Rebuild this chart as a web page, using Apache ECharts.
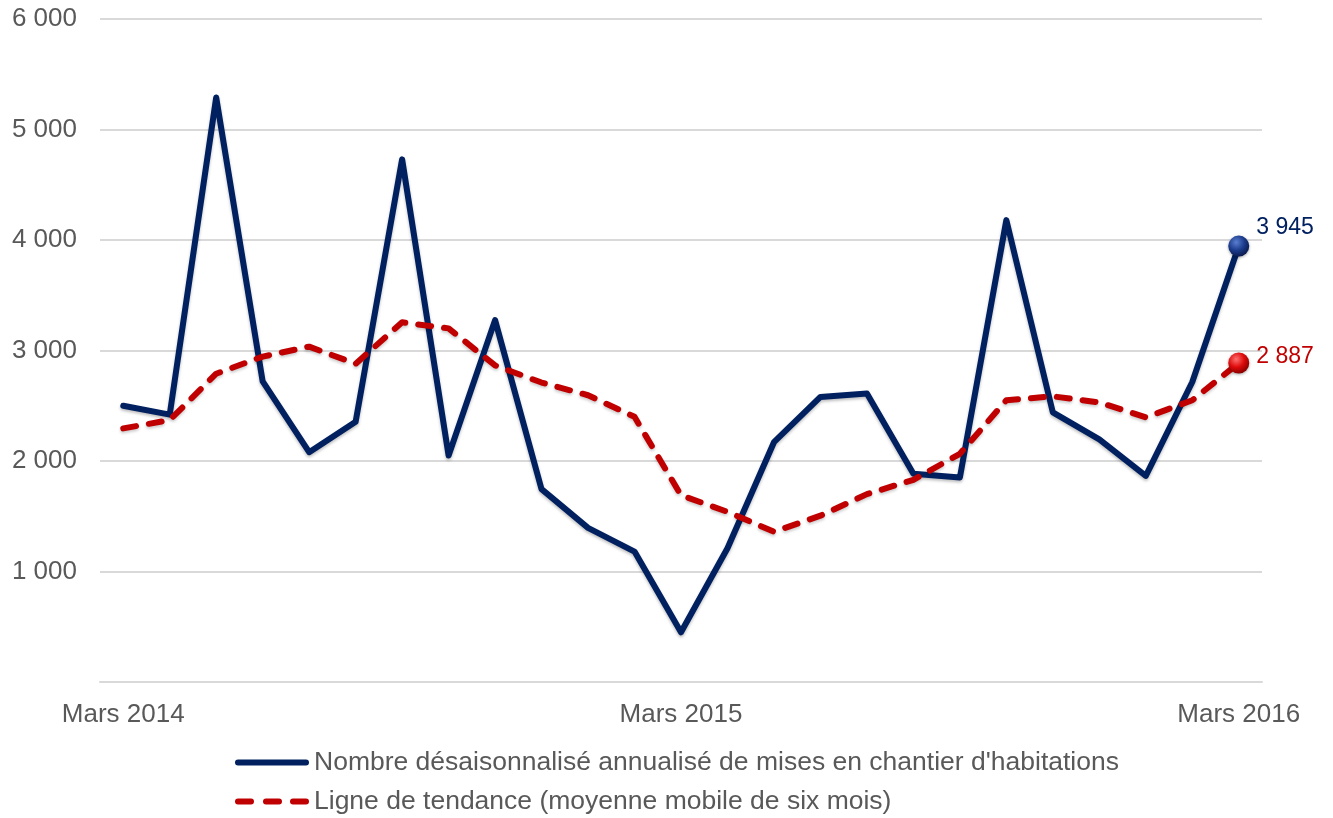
<!DOCTYPE html>
<html>
<head>
<meta charset="utf-8">
<script src="https://cdn.jsdelivr.net/npm/echarts@6/dist/echarts.min.js"></script>
<style>
html,body{margin:0;padding:0;background:#fff;}
#chart{width:1333px;height:818px;}
</style>
</head>
<body>
<div id="chart"></div>
<script>
const categories = [
  'Mars 2014','Avril 2014','Mai 2014','Juin 2014','Juillet 2014','Août 2014','Septembre 2014','Octobre 2014','Novembre 2014','Décembre 2014',
  'Janvier 2015','Février 2015','Mars 2015','Avril 2015','Mai 2015','Juin 2015','Juillet 2015','Août 2015','Septembre 2015','Octobre 2015','Novembre 2015','Décembre 2015',
  'Janvier 2016','Février 2016','Mars 2016'
];
const mises = [2500, 2420, 5290, 2720, 2080, 2355, 4730, 2050, 3275, 1745, 1395, 1180, 450, 1210, 2170, 2580, 2610, 1885, 1850, 4180, 2440, 2195, 1865, 2715, 3945];
const tendance = [2295, 2370, 2790, 2945, 3035, 2880, 3255, 3200, 2865, 2710, 2595, 2400, 1690, 1540, 1360, 1505, 1700, 1830, 2065, 2550, 2585, 2530, 2395, 2550, 2887];
const yTicks = [0, 1000, 2000, 3000, 4000, 5000, 6000];
const seriesNames = [
  "Nombre désaisonnalisé annualisé de mises en chantier d'habitations",
  "Ligne de tendance (moyenne mobile de six mois)"
];

const FONT = "'Liberation Sans', Arial, sans-serif";
const fmt = v => String(Math.round(v)).replace(/\B(?=(\d{3})+(?!\d))/g, ' ');

function endPointData(arr, grad, labelColor, offsetY) {
  return arr.map((v, i) => {
    if (i !== arr.length - 1) return v;
    return {
      value: v,
      symbol: 'circle',
      symbolSize: 21,
      itemStyle: {color: grad, borderWidth: 0, shadowColor: 'rgba(0,0,0,0.35)', shadowBlur: 3, shadowOffsetY: 1},
      label: {
        show: true, position: 'right', distance: 7, offset: [0, offsetY],
        formatter: p => fmt(p.value), color: labelColor, fontSize: 23, fontFamily: FONT
      }
    };
  });
}

const blueGrad = new echarts.graphic.RadialGradient(0.38, 0.32, 0.7, [
  {offset: 0, color: '#5a7ed0'}, {offset: 0.55, color: '#1c3c8c'}, {offset: 1, color: '#0a1a4e'}
]);
const redGrad = new echarts.graphic.RadialGradient(0.38, 0.32, 0.7, [
  {offset: 0, color: '#ff7070'}, {offset: 0.55, color: '#dd0a0a'}, {offset: 1, color: '#8a0000'}
]);

const iconSolid = 'path://M3,0 L71,0 A3,3 0 0 1 71,6 L3,6 A3,3 0 0 1 3,0 Z';
const iconDashed = 'path://M3,0 L16,0 A3,3 0 0 1 16,6 L3,6 A3,3 0 0 1 3,0 Z ' +
  'M31,0 L44,0 A3,3 0 0 1 44,6 L31,6 A3,3 0 0 1 31,0 Z ' +
  'M58,0 L71,0 A3,3 0 0 1 71,6 L58,6 A3,3 0 0 1 58,0 Z';

const chart = echarts.init(document.getElementById('chart'));
chart.setOption({
  backgroundColor: '#ffffff',
  animation: false,
  grid: {left: 100, right: 71, top: 19, bottom: 136, containLabel: false},
  xAxis: {
    type: 'category',
    data: categories,
    boundaryGap: true,
    axisLine: {show: true, lineStyle: {color: '#d9d9d9', width: 2}},
    axisTick: {show: false},
    axisLabel: {interval: 11, color: '#595959', fontSize: 26, fontFamily: FONT, margin: 20},
    splitLine: {show: false}
  },
  yAxis: {
    type: 'value',
    min: yTicks[0],
    max: yTicks[yTicks.length - 1],
    interval: 1000,
    axisLine: {show: false},
    axisTick: {show: false},
    axisLabel: {
      color: '#595959', fontSize: 26, fontFamily: FONT, margin: 23, padding: [6, 0, 0, 0],
      formatter: v => v === 0 ? '' : fmt(v)
    },
    splitLine: {lineStyle: {color: '#d9d9d9', width: 2}}
  },
  legend: {
    orient: 'vertical',
    left: 235,
    top: 749,
    padding: 0,
    itemWidth: 74,
    itemHeight: 6,
    itemGap: 12,
    textStyle: {color: '#595959', fontSize: 26.5, fontFamily: FONT, lineHeight: 26},
    data: [
      {name: seriesNames[0], icon: iconSolid, itemStyle: {color: '#002060'}},
      {name: seriesNames[1], icon: iconDashed, itemStyle: {color: '#C00000'}}
    ]
  },
  series: [
    {
      name: seriesNames[0],
      type: 'line',
      symbol: 'none',
      data: endPointData(mises, blueGrad, '#002060', -18),
      lineStyle: {color: '#002060', width: 6, cap: 'round', join: 'round',
        shadowColor: 'rgba(0,0,0,0.25)', shadowBlur: 3, shadowOffsetY: 2},
      itemStyle: {color: '#002060'},
      z: 2
    },
    {
      name: seriesNames[1],
      type: 'line',
      symbol: 'none',
      data: endPointData(tendance, redGrad, '#C00000', -6),
      lineStyle: {color: '#C00000', width: 6, type: [13, 13], cap: 'round', join: 'round',
        shadowColor: 'rgba(0,0,0,0.2)', shadowBlur: 3, shadowOffsetY: 2},
      itemStyle: {color: '#C00000'},
      z: 3
    }
  ]
});
</script>
</body>
</html>
